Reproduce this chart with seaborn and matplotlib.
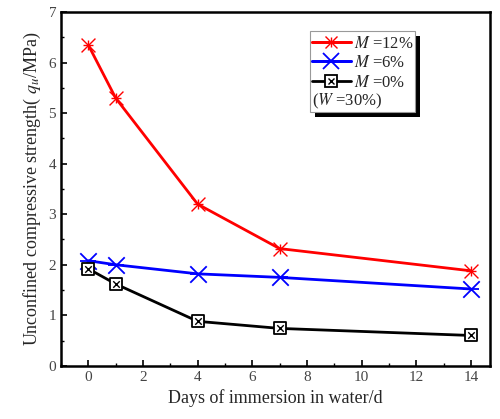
import numpy as np
import pandas as pd
import seaborn as sns
import matplotlib.pyplot as plt
from matplotlib.lines import Line2D
from matplotlib.patches import Rectangle
from matplotlib.ticker import MultipleLocator

# data
days = [0, 1, 4, 7, 14]
m12 = [6.35, 5.30, 3.20, 2.32, 1.88]
m6 = [2.08, 2.00, 1.82, 1.75, 1.52]
m0 = [1.92, 1.62, 0.88, 0.74, 0.60]
labels = ['$M$ =12%', '$M$ =6%', '$M$ =0%']
colors = ['#ff0000', '#0000ff', '#000000']

df = pd.DataFrame({
    'days': days * 3,
    'qu': m12 + m6 + m0,
    'group': [labels[0]] * 5 + [labels[1]] * 5 + [labels[2]] * 5,
})

sns.set_style('ticks')
plt.rcParams['font.family'] = ['Liberation Serif', 'DejaVu Serif']
plt.rcParams['mathtext.fontset'] = 'stix'

fig = plt.figure(figsize=(5, 4.19), dpi=100)
ax = fig.add_axes([0.122, 0.127, 0.858, 0.844])

sns.lineplot(data=df, x='days', y='qu', hue='group', palette=dict(zip(labels, colors)),
             linewidth=2, legend=False, ax=ax)

# markers: red asterisk-like, blue crossed x, black boxed x
ax.scatter(days, m12, marker='x', s=100, color=colors[0], linewidths=1.0, zorder=3)
ax.scatter(days, m12, marker='+', s=60, color=colors[0], linewidths=1.0, zorder=3)
ax.scatter(days, m6, marker='x', s=140, color=colors[1], linewidths=1.3, zorder=3)
ax.scatter(days, m6, marker='_', s=140, color=colors[1], linewidths=1.3, zorder=3)
ax.scatter(days, m0, marker='s', s=75, facecolor='white', edgecolor='black', linewidths=1.3, zorder=3)
ax.scatter(days, m0, marker='x', s=22, color='black', linewidths=1.0, zorder=4)

ax.set_xlim(-1, 14.7)
ax.set_ylim(0, 7)
ax.xaxis.set_major_locator(MultipleLocator(2))
ax.xaxis.set_minor_locator(MultipleLocator(1))
ax.yaxis.set_major_locator(MultipleLocator(1))
ax.yaxis.set_minor_locator(MultipleLocator(0.5))
ax.tick_params(which='both', direction='in', labelsize=11, color='black', labelcolor='#444444')
ax.tick_params(which='major', length=4, width=1.2)
ax.tick_params(which='minor', length=2.5, width=1)
for sp in ax.spines.values():
    sp.set_linewidth(1.8)
    sp.set_color('black')

ax.set_xlabel('Days of immersion in water/d', fontsize=13)
ax.set_ylabel('Unconfined compressive strength( $q_u$/MPa)', fontsize=13)

# legend box with hard black shadow, drawn by hand so the (W=30%) note sits inside
bx, by, bw, bh = 0.580, 0.7175, 0.245, 0.2285
dx, dy = 5 / 429, 5 / 354
ax.add_patch(Rectangle((bx + dx, by - dy), bw, bh, transform=ax.transAxes,
                       facecolor='black', edgecolor='none', zorder=5))
ax.add_patch(Rectangle((bx, by), bw, bh, transform=ax.transAxes,
                       facecolor='white', edgecolor='#999999', lw=0.8, zorder=6))

h12 = (Line2D([], [], color=colors[0], lw=2, marker='x', ms=9, mew=1),
       Line2D([], [], color=colors[0], lw=2, marker='+', ms=7, mew=1))
h6 = (Line2D([], [], color=colors[1], lw=2, marker='x', ms=11, mew=1.3),
      Line2D([], [], color=colors[1], lw=2, marker='_', ms=11, mew=1.3))
h0 = (Line2D([], [], color='black', lw=2, marker='s', ms=8, mfc='white', mec='black', mew=1.3),
      Line2D([], [], color='black', lw=0, marker='x', ms=4, mew=1))
leg = ax.legend([h12, h6, h0], labels, loc='upper left',
                bbox_to_anchor=(bx - 0.002, by + bh - 0.004), fontsize=12, frameon=False,
                handlelength=2.3, handletextpad=0.2, borderpad=0.2, labelspacing=0.2,
                borderaxespad=0)
leg.set_zorder(7)
ax.text(bx + 0.006, 0.749, '($W$ =30%)', transform=ax.transAxes, fontsize=12,
        va='center', ha='left', zorder=7)

fig.savefig('out.png', dpi=100)
